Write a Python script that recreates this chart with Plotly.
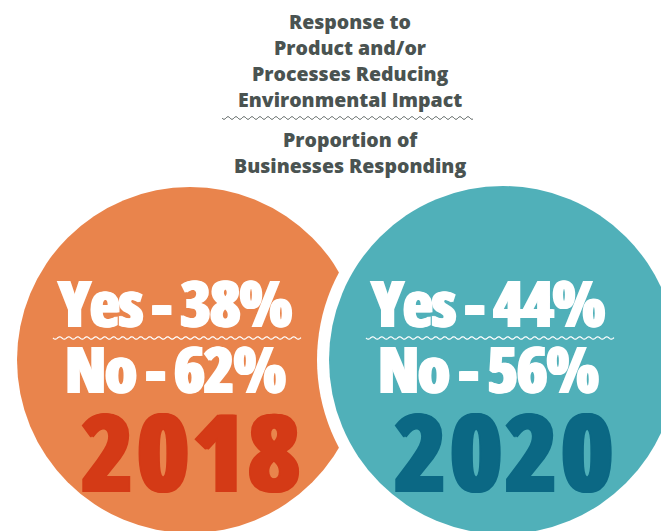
"""Two-circle infographic: share of businesses responding yes/no, 2018 vs 2020."""

import numpy as np
import plotly.graph_objects as go

W, H = 669, 531
OFF = 8   # default body margin of the written page

# ── Data ──────────────────────────────────────────────────────────────────────
years = ["2018", "2020"]
yes_pct = [38, 44]
no_pct = [62, 56]
title_lines = ["Response to", "Product and/or", "Processes Reducing", "Environmental Impact"]
subtitle_lines = ["Proportion of", "Businesses Responding"]

# ── Styling ───────────────────────────────────────────────────────────────────
CIRCLE_COLORS = ["#e9844c", "#50b0b9"]
YEAR_COLORS = ["#d43a16", "#0b6884"]
TITLE_COLOR = "#4a5351"
CENTERS = [(190, 360), (503, 360)]
RADII = [173, 174]
GAP = 12


def _tight(text, spacing, stretch="87.5%"):
    # condensed look: font-stretch + letter spacing through an inline span
    return f'<span style="font-stretch:{stretch};letter-spacing:{spacing}px">{text}</span>'


def _heavy(size, color, px=1.2):
    # thin same-colour shadow thickens the 800 weight towards a black face
    return dict(family="Open Sans", weight=800, size=size, color=color,
                shadow=f"{px}px 0 0 {color}, -{px}px 0 0 {color}")


def _wave_path(x0, x1, y, amp=1.3, period=8.0):
    xs = np.linspace(x0, x1, int((x1 - x0) * 2))
    ys = y + amp * np.sin(2 * np.pi * (xs - x0) / period)
    return "M " + " L ".join(f"{a:.2f},{b:.2f}" for a, b in zip(xs, ys))


fig = go.Figure()
shapes = []
annotations = []

for i, year in enumerate(years):
    cx, cy = CENTERS[i]
    r = RADII[i]
    if i > 0:
        # white ring that separates overlapping circles
        shapes.append(dict(type="circle", xref="x", yref="y",
                           x0=cx - r - GAP, x1=cx + r + GAP,
                           y0=cy - r - GAP, y1=cy + r + GAP,
                           fillcolor="white", line_width=0, layer="above"))
    shapes.append(dict(type="circle", xref="x", yref="y",
                       x0=cx - r, x1=cx + r, y0=cy - r, y1=cy + r,
                       fillcolor=CIRCLE_COLORS[i], line_width=0, layer="above"))
    shapes.append(dict(type="path", xref="x", yref="y",
                       path=_wave_path(cx - 137, cx + 111, 338, amp=1.2, period=9),
                       line=dict(color="white", width=1.2), layer="above"))

    annotations.append(dict(x=cx - 16, y=302, text=_tight(f"Yes - {yes_pct[i]}%", -1.5),
                            font=_heavy(63, "white")))
    annotations.append(dict(x=cx - 15, y=368, text=_tight(f"No - {no_pct[i]}%", -1.5),
                            font=_heavy(63, "white")))
    annotations.append(dict(x=cx + 2, y=450, text=_tight(year, 2),
                            font=_heavy(108, YEAR_COLORS[i], 1.6)))

title_font = dict(family="Open Sans", size=19.5, color=TITLE_COLOR, weight=800)
for j, line in enumerate(title_lines):
    annotations.append(dict(x=350, y=21 + 26 * j, text=line, font=title_font))
for j, line in enumerate(subtitle_lines):
    annotations.append(dict(x=350, y=139 + 26 * j, text=line, font=title_font))

shapes.append(dict(type="path", xref="x", yref="y",
                   path=_wave_path(222, 473, 118, amp=1.3, period=8),
                   line=dict(color=TITLE_COLOR, width=1)))

for a in annotations:
    a.update(xref="x", yref="y", showarrow=False, xanchor="center", yanchor="middle")

fig.update_layout(
    width=W, height=H,
    margin=dict(l=0, r=0, t=0, b=0),
    paper_bgcolor="white", plot_bgcolor="white",
    showlegend=False,
    shapes=shapes,
    annotations=annotations,
    # shift ranges so that data units equal pixels of the photographed page
    xaxis=dict(range=[OFF, W + OFF], visible=False, fixedrange=True),
    yaxis=dict(range=[H + OFF, OFF], visible=False, fixedrange=True),
)

fig.write_html("out.html", config={"displayModeBar": False})
